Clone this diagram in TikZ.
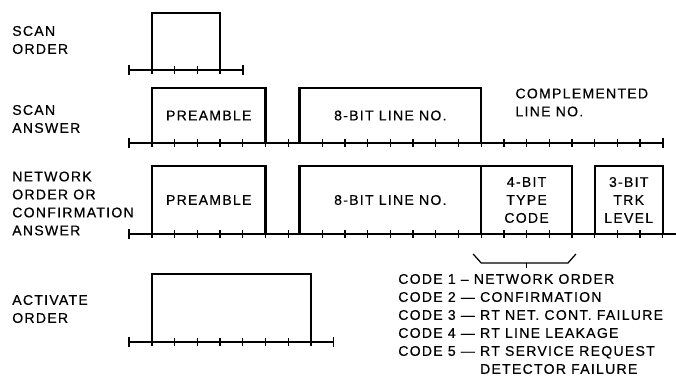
\documentclass[tikz,border=0pt]{standalone}
\usepackage{fontspec}
\newfontfamily\diafont[LetterSpace=9,FakeBold=0.5]{Liberation Sans}
\newcommand{\cdfont}{\diafont\fontsize{10}{12.8}\selectfont}
\usepackage{tikz}
\tikzset{
  row-label/.style={anchor=west,align=left,inner sep=0pt,font=\cdfont},
  field/.style 2 args={draw,line width=1.6pt,inner sep=0pt,outer sep=0pt,
    anchor=south west,minimum width=#1*5.675mm,minimum height=#2,
    align=center,font=\cdfont},
  bit-line/.style={line width=1.3pt},
  bit-tick/.style={line width=0.9pt},
  end-tick/.style={line width=1.2pt},
  brace-line/.style={line width=0.9pt},
}

\begin{document}
\begin{tikzpicture}[x=0.25mm,y=-0.25mm]
  \useasboundingbox (0,0) rectangle (676,376);
  % names of the four words
  \node[row-label] (lScanOrder) at (12,40) {SCAN\\ORDER};
  \node[row-label] (lScanAnswer) at (12,119) {SCAN\\ANSWER};
  \node[row-label] (lNetOrder) at (12,203.5) {NETWORK\\ORDER OR\\CONFIRMATION\\ANSWER};
  \node[row-label] (lActivate) at (12,309) {ACTIVATE\\ORDER};

  % one x unit = one bit
  \begin{scope}[shift={(152,0)},x=5.675mm]
    % scan order
    \draw[bit-line] (-1,70) -- (4,70);
    \foreach \t in {-1,4} \draw[end-tick] (\t,65) -- (\t,75);
    \foreach \t in {0,...,3} \draw[bit-tick] (\t,66) -- (\t,74);
    \node[field={3}{14.25mm}] (soBox) at (0,70) {};

    % scan answer
    \draw[bit-line] (-1,143) -- (22.5,143);
    \foreach \t in {-1,22.5} \draw[end-tick] (\t,138) -- (\t,148);
    \foreach \t in {0,...,6} \draw[bit-tick] (\t,139) -- (\t,147);
    \foreach \t in {7.5,8.5,...,21.5} \draw[bit-tick] (\t,139) -- (\t,147);
    \node[field={5}{13.75mm}] (saPre) at (0,143) {PREAMBLE};
    \node[field={8}{13.75mm}] (saLine) at (6.5,143) {8-BIT LINE NO.};
    \node[row-label] (saComp) at (16,102.5) {COMPLEMENTED\\LINE NO.};

    % network order or confirmation answer
    \draw[bit-line] (-1,234) -- (23.08,234);
    \draw[end-tick] (-1,229) -- (-1,239);
    \foreach \t in {0,...,6} \draw[bit-tick] (\t,230) -- (\t,238);
    \foreach \t in {7.5,8.5,...,22.5} \draw[bit-tick] (\t,230) -- (\t,238);
    \node[field={5}{17mm}] (noPre) at (0,234) {PREAMBLE};
    \node[field={8}{17mm}] (noLine) at (6.5,234) {8-BIT LINE NO.};
    \node[field={4}{17mm}] (noType) at (14.5,234) {4-BIT\\TYPE\\CODE};
    \node[field={3}{17mm}] (noTrk) at (19.5,234) {3-BIT\\TRK\\LEVEL};

    % activate order
    \draw[bit-line] (-1,342) -- (8,342);
    \foreach \t in {-1,8} \draw[end-tick] (\t,337) -- (\t,347);
    \foreach \t in {0,...,7} \draw[bit-tick] (\t,338) -- (\t,346);
    \node[field={7}{17mm}] (acBox) at (0,342) {};
  \end{scope}

  % type code bracket
  \coordinate (braceMid) at ([yshift=-7.25mm]noType.south);
  \draw[brace-line] ([xshift=-2mm,yshift=-5mm]noType.south west)
    -- ([yshift=-7.25mm]noType.south west)
    -- ([xshift=-1mm,yshift=-7.25mm]noType.south east)
    -- ([xshift=1mm,yshift=-5mm]noType.south east);
  \draw[brace-line] (braceMid) -- ++(0,5);

  \node[row-label] (codes) at (398,324) {CODE 1 – NETWORK ORDER\\
    CODE 2 — CONFIRMATION\\
    CODE 3 — RT NET. CONT. FAILURE\\
    CODE 4 — RT LINE LEAKAGE\\
    CODE 5 — RT SERVICE REQUEST\\
    \hphantom{CODE 5 — }DETECTOR FAILURE};
\end{tikzpicture}
\end{document}
